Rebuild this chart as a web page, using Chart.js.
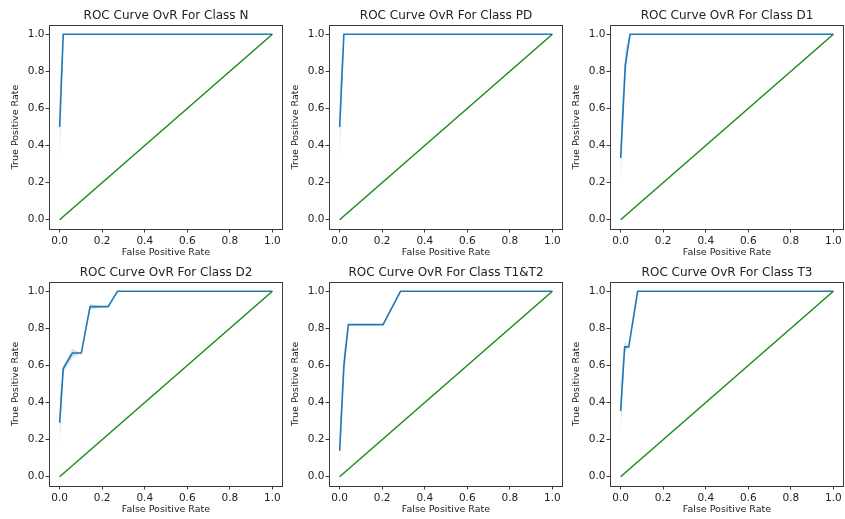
<!DOCTYPE html>
<html>
<head>
<meta charset="utf-8">
<script src="https://cdn.jsdelivr.net/npm/chart.js@4.4.1/dist/chart.umd.min.js"></script>
<style>
  body { margin: 0; background: #fff; width: 845px; height: 519px; position: relative; overflow: hidden; }
  canvas { position: absolute; }
</style>
</head>
<body>
<canvas id="rocN" width="284" height="259" style="left:0px;top:0px"></canvas>
<canvas id="rocPD" width="284" height="259" style="left:280px;top:0px"></canvas>
<canvas id="rocD1" width="284" height="259" style="left:561px;top:0px"></canvas>
<canvas id="rocD2" width="284" height="259" style="left:0px;top:257px"></canvas>
<canvas id="rocT12" width="284" height="259" style="left:280px;top:257px"></canvas>
<canvas id="rocT3" width="284" height="259" style="left:561px;top:257px"></canvas>
<script>
// tick values shared by both axes
const tickValues = [0, 0.2, 0.4, 0.6, 0.8, 1.0];

// chance line
const diagFpr = [0, 1];
const diagTpr = [0, 1];

// class N
const fprN = [0, 0.017, 1];
const tprN = [0.5, 1, 1];
const loN = [0.28, 1, 1];
const hiN = [0.72, 1, 1];

// class PD
const fprPD = [0, 0.02, 1];
const tprPD = [0.5, 1, 1];
const loPD = [0.29, 1, 1];
const hiPD = [0.71, 1, 1];

// class D1
const fprD1 = [0, 0.022, 0.044, 1];
const tprD1 = [0.333, 0.833, 1, 1];
const loD1 = [0.19, 0.76, 1, 1];
const hiD1 = [0.48, 0.92, 1, 1];

// class D2
const fprD2 = [0, 0.017, 0.06, 0.102, 0.143, 0.228, 0.272, 1];
const tprD2 = [0.292, 0.583, 0.667, 0.667, 0.917, 0.917, 1, 1];
const loD2 = [0.15, 0.56, 0.64, 0.667, 0.9, 0.917, 1, 1];
const hiD2 = [0.43, 0.6, 0.69, 0.667, 0.93, 0.917, 1, 1];

// class T1&T2
const fprT12 = [0, 0.02, 0.041, 0.204, 0.286, 1];
const tprT12 = [0.14, 0.6, 0.82, 0.82, 1, 1];
const loT12 = [0.05, 0.52, 0.82, 0.82, 1, 1];
const hiT12 = [0.23, 0.68, 0.82, 0.82, 1, 1];

// class T3
const fprT3 = [0, 0.019, 0.038, 0.08, 1];
const tprT3 = [0.355, 0.70, 0.70, 1, 1];
const loT3 = [0.21, 0.67, 0.70, 1, 1];
const hiT3 = [0.5, 0.73, 0.70, 1, 1];

const TEXT = "#222";
const FRAME = "#3a3a3a";
const FONT = "'DejaVu Sans', sans-serif";

function toPoints(xs, ys) {
  return xs.map(function (x, i) { return { x: x, y: ys[i] }; });
}

// full box around the plot area, like matplotlib spines
const frameBox = {
  id: "frameBox",
  afterDraw(chart) {
    const a = chart.chartArea;
    const ctx = chart.ctx;
    ctx.save();
    ctx.strokeStyle = FRAME;
    ctx.lineWidth = 1;
    ctx.strokeRect(Math.round(a.left) + 0.5, Math.round(a.top) + 0.5,
      Math.round(a.right - a.left) - 1, Math.round(a.bottom - a.top));
    ctx.restore();
  }
};

function axis(titleText, isX) {
  return {
    type: "linear",
    min: -0.05,
    max: 1.05,
    afterBuildTicks: function (scale) {
      scale.ticks = tickValues.map(function (v) { return { value: v }; });
    },
    afterFit: function (scale) {
      if (isX) scale.height = 30; else scale.width = 49;
    },
    ticks: {
      color: TEXT,
      font: { family: FONT, size: 10.5 },
      padding: isX ? 2 : 1,
      callback: function (v) { return Number(v).toFixed(1); },
    },
    grid: {
      drawOnChartArea: false,
      drawTicks: true,
      tickLength: 3.5,
      color: FRAME,
    },
    border: { display: false },
    title: {
      display: true,
      text: titleText,
      color: TEXT,
      font: { family: FONT, size: 9.5 },
      padding: isX ? { top: 0, bottom: 1 } : { top: 10, bottom: 0 },
    },
  };
}

function plotRoc(canvasId, className, fpr, tpr, lo, hi) {
  new Chart(document.getElementById(canvasId), {
    type: "line",
    data: {
      datasets: [
        {
          data: toPoints(diagFpr, diagTpr),
          borderColor: "#1a8c1a",
          borderWidth: 1.5,
          pointRadius: 0,
          order: 0,
        },
        {
          data: toPoints(fpr, tpr),
          borderColor: "#1f77b4",
          borderWidth: 1.6,
          pointRadius: 0,
          order: 1,
        },
        {
          data: toPoints(fpr, lo),
          borderWidth: 0,
          pointRadius: 0,
          fill: false,
          order: 2,
        },
        {
          data: toPoints(fpr, hi),
          borderWidth: 0,
          pointRadius: 0,
          fill: "-1",
          backgroundColor: "rgba(31,119,180,0.2)",
          order: 3,
        },
      ],
    },
    options: {
      responsive: false,
      animation: false,
      devicePixelRatio: 1,
      layout: { padding: { left: 0, right: 1, top: 0, bottom: 0 } },
      plugins: {
        legend: { display: false },
        tooltip: { enabled: false },
        title: {
          display: true,
          fullSize: false,
          text: "ROC Curve OvR For Class " + className,
          color: TEXT,
          font: { family: FONT, size: 12, weight: "normal", lineHeight: "16px" },
          padding: { top: 8, bottom: 1 },
        },
      },
      scales: {
        x: axis("False Positive Rate", true),
        y: axis("True Positive Rate", false),
      },
    },
    plugins: [frameBox],
  });
}

plotRoc("rocN", "N", fprN, tprN, loN, hiN);
plotRoc("rocPD", "PD", fprPD, tprPD, loPD, hiPD);
plotRoc("rocD1", "D1", fprD1, tprD1, loD1, hiD1);
plotRoc("rocD2", "D2", fprD2, tprD2, loD2, hiD2);
plotRoc("rocT12", "T1&T2", fprT12, tprT12, loT12, hiT12);
plotRoc("rocT3", "T3", fprT3, tprT3, loT3, hiT3);
</script>
</body>
</html>
